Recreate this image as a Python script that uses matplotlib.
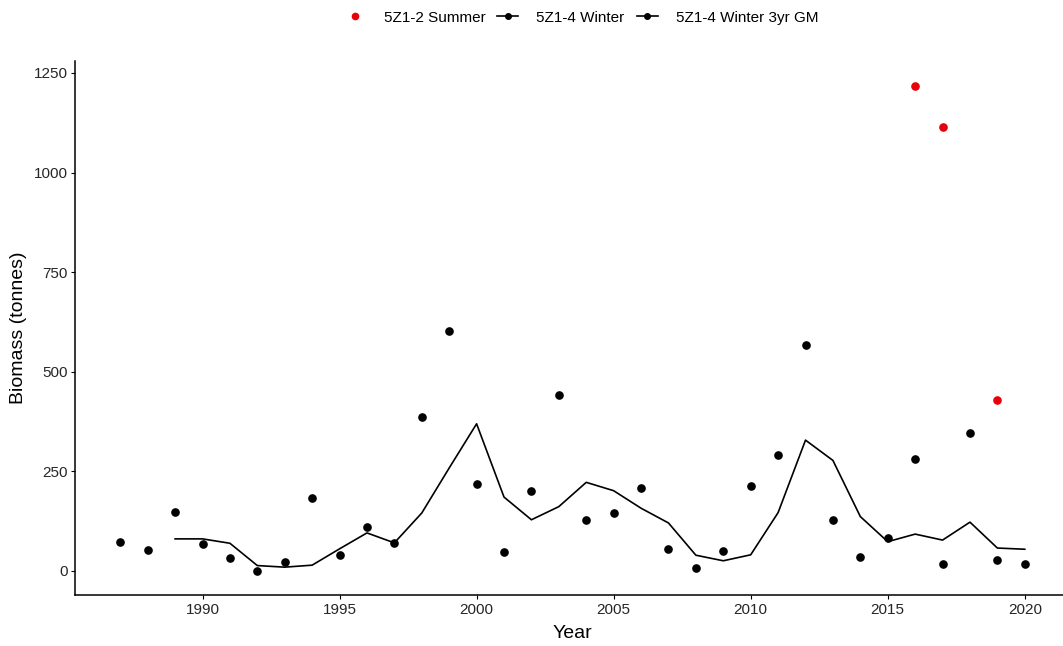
import matplotlib
matplotlib.use("Agg")
import matplotlib.pyplot as plt
from matplotlib.lines import Line2D

plt.rcParams["font.family"] = ["Liberation Sans", "DejaVu Sans"]

# 5Z1-4 Winter survey biomass (tonnes)
winter_years = list(range(1987, 2021))
winter_biomass = [72, 52, 147, 66, 33, 0, 21, 183, 40, 111, 70,
                  385, 602, 218, 48, 199, 442, 127, 146, 208, 54, 6, 50, 213,
                  291, 568, 127, 35, 81, 280, 18, 345, 27, 16]

# 3 year geometric mean
gm_years = list(range(1989, 2021))
gm_biomass = [80, 80, 69, 13, 9, 14, 55, 95, 70,
              145, 258, 369, 185, 128, 161, 222, 201, 157, 120, 39, 25, 40,
              146, 328, 277, 136, 73, 92, 77, 122, 57, 54]

# 5Z1-2 Summer survey
summer_years = [2016, 2017, 2019]
summer_biomass = [1218, 1114, 428]

fig = plt.figure(figsize=(10.63, 6.46), dpi=100)
ax = fig.add_axes([0.0706, 0.0789, 0.936, 0.826])

ax.plot(gm_years, gm_biomass, color="black", lw=1.2)
ax.plot(winter_years, winter_biomass, "o", color="black", ms=5.2)
ax.plot(summer_years, summer_biomass, "o", color="#E8000B", ms=5.2)

ax.set_xlim(1985.35, 2021.65)
ax.set_ylim(-61, 1279)
ax.set_xticks(range(1990, 2021, 5))
ax.set_yticks(range(0, 1251, 250))

for s in ["top", "right"]:
    ax.spines[s].set_visible(False)
for s in ["left", "bottom"]:
    ax.spines[s].set_linewidth(1.1)
ax.tick_params(axis="both", labelsize=11, labelcolor="#262626", length=3, width=0.8, pad=2.5)

ax.set_xlabel("Year", fontsize=14, labelpad=6)
ax.set_ylabel("Biomass (tonnes)", fontsize=14)
ax.yaxis.set_label_coords(-0.048, 0.5)

handles = [
    Line2D([], [], color="#E8000B", marker="o", ls="none", ms=4.5),
    Line2D([], [], color="black", marker="o", lw=1.2, ms=4),
    Line2D([], [], color="black", marker="o", lw=1.2, ms=4),
]
labels = ["5Z1-2 Summer", "5Z1-4 Winter", "5Z1-4 Winter 3yr GM"]
fig.legend(handles, labels, loc="upper center", bbox_to_anchor=(0.547, 1.005),
           ncol=3, frameon=False, fontsize=11, handlelength=1.35,
           columnspacing=0.8, handletextpad=1.2)

fig.savefig("out.png", dpi=100)
